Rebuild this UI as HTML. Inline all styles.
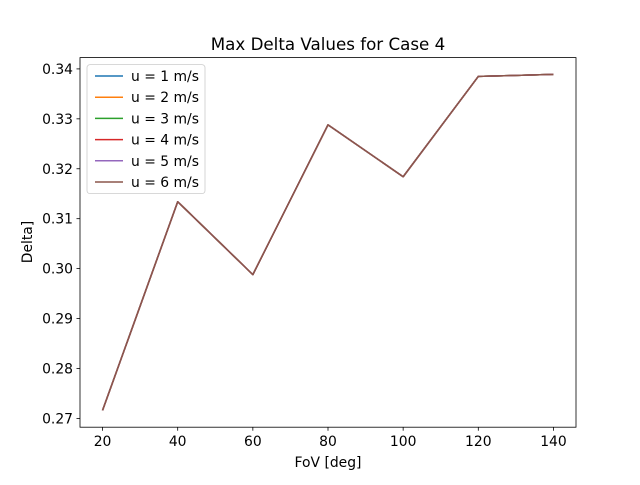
<!DOCTYPE html>
<html><head><meta charset="utf-8"><style>
body{margin:0;background:#fff}
svg text{font-family:"DejaVu Sans","Liberation Sans",sans-serif;fill:#000}
</style></head><body>
<svg id="chart" width="640" height="480" xmlns="http://www.w3.org/2000/svg">
<rect width="640" height="480" fill="#fff"/>
<text x="328" y="50" font-size="16.7" text-anchor="middle">Max Delta Values for Case 4</text>
<g id="ticks"></g>
<g id="lines"></g>
<rect x="80" y="57.6" width="496" height="369.6" fill="none" stroke="#000" stroke-width="0.8"/>
<text x="328" y="467" font-size="13.9" text-anchor="middle">FoV [deg]</text>
<text x="32" y="242" font-size="13.9" text-anchor="middle" transform="rotate(-90 32 242)">Delta]</text>
<g id="legend"></g>
</svg>
<script>
const categories=[20,40,60,80,100,120,140];
const seriesNames=["u = 1 m/s","u = 2 m/s","u = 3 m/s","u = 4 m/s","u = 5 m/s","u = 6 m/s"];
const s1=[0.2716,0.3134,0.2988,0.3288,0.3184,0.3385,0.3389];
const s2=[0.2716,0.3134,0.2988,0.3288,0.3184,0.3385,0.3389];
const s3=[0.2716,0.3134,0.2988,0.3288,0.3184,0.3385,0.3389];
const s4=[0.2716,0.3134,0.2988,0.3288,0.3184,0.3385,0.3389];
const s5=[0.2716,0.3134,0.2988,0.3288,0.3184,0.3385,0.3389];
const s6=[0.2716,0.3134,0.2988,0.3288,0.3184,0.3385,0.3389];
const xTicks=[20,40,60,80,100,120,140];
const yTicks=["0.27","0.28","0.29","0.30","0.31","0.32","0.33","0.34"];
const colors=["#1f77b4","#ff7f0e","#2ca02c","#d62728","#9467bd","#8c564b"];
const allSeries=[s1,s2,s3,s4,s5,s6];
const NS="http://www.w3.org/2000/svg";
const L=80,R=576,T=57.6,B=427.2;
const xmin0=Math.min(...categories),xmax0=Math.max(...categories),xp=(xmax0-xmin0)*0.05;
const xmin=xmin0-xp,xmax=xmax0+xp;
const all=allSeries.flat();
const ymin0=Math.min(...all),ymax0=Math.max(...all),yp=(ymax0-ymin0)*0.05;
const ymin=ymin0-yp,ymax=ymax0+yp;
const X=v=>L+(v-xmin)/(xmax-xmin)*(R-L);
const Y=v=>B-(v-ymin)/(ymax-ymin)*(B-T);
function mk(t,a){const e=document.createElementNS(NS,t);for(const k in a)e.setAttribute(k,a[k]);return e;}
const tg=document.getElementById('ticks');
xTicks.forEach(v=>{const x=X(v);
 const l=mk('line',{x1:x,x2:x,y1:B,y2:B+3.5,stroke:'#000','stroke-width':0.8});
 
 
 tg.appendChild(l);
 const t=mk('text',{x:x,y:B+19,'font-size':13.9,'text-anchor':'middle'});t.textContent=v;
 
 
 tg.appendChild(t);});
yTicks.forEach(s=>{const y=Y(parseFloat(s));
 const l=mk('line',{x1:L-3.5,x2:L,y1:y,y2:y,stroke:'#000','stroke-width':0.8});
 
 
 tg.appendChild(l);
 const t=mk('text',{x:L-7,y:y+5,'font-size':13.9,'text-anchor':'end'});t.textContent=s;
 
 
 tg.appendChild(t);});
const lg=document.getElementById('lines');
allSeries.forEach((s,i)=>{
 const p=mk('polyline',{points:categories.map((c,j)=>X(c)+','+Y(s[j])).join(' '),fill:'none',stroke:colors[i],'stroke-width':1.5,'stroke-linejoin':'round'});
 
 
 lg.appendChild(p);});
const leg=document.getElementById('legend');
const box=mk('rect',{x:87,y:64.6,width:118,height:129,rx:3,fill:'#fff','fill-opacity':0.8,stroke:'#ccc','stroke-width':0.8});


leg.appendChild(box);
seriesNames.forEach((n,i)=>{const y=76+i*21.2;
 const g=mk('g',{});
 
 
 g.appendChild(mk('line',{x1:95,x2:123,y1:y,y2:y,stroke:colors[i],'stroke-width':1.5}));
 const t=mk('text',{x:131,y:y+5,'font-size':13.9});t.textContent=n;g.appendChild(t);
 leg.appendChild(g);});
</script>
</body></html>
